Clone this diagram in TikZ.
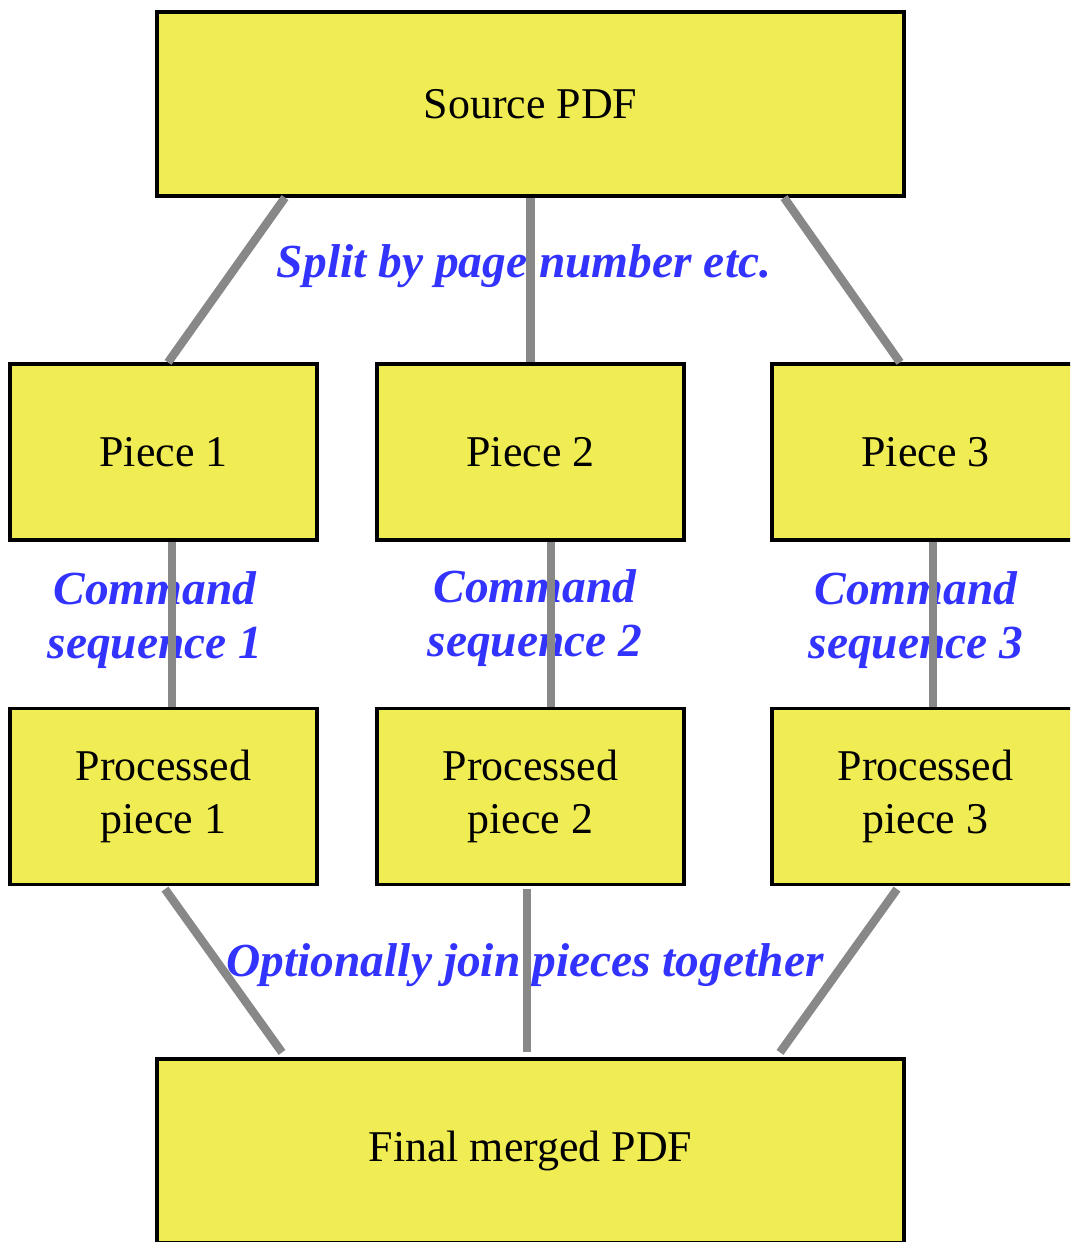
\documentclass[tikz,border=0pt]{standalone}
\usepackage{fontspec}
\setmainfont{Liberation Serif}
\definecolor{boxyellow}{RGB}{240,236,84}
\definecolor{labelblue}{RGB}{51,51,255}
\definecolor{linkgray}{RGB}{136,136,136}

\begin{document}
\begin{tikzpicture}
% Define the node styles
\tikzstyle{stage} = [draw, rectangle, fill=boxyellow, line width=0.9pt, align=center, font=\fontsize{12.5}{15}\selectfont]
\tikzstyle{wide} = [stage, minimum width=7.47cm, minimum height=1.84cm]
\tikzstyle{piece} = [stage, minimum width=3.07cm, minimum height=1.76cm]
\tikzstyle{note} = [text=labelblue, align=center, font=\fontsize{13.5}{15.5}\selectfont\bfseries\itshape]
\tikzstyle{link} = [draw=linkgray, line width=2.4pt]

\useasboundingbox (0,0) rectangle (10.7,-12.42);
\clip (0,0) rectangle (10.7,-12.42);

% Define the nodes
\node[wide] (src) at (5.305, -1.04) {Source PDF};
\node[piece] (p1) at (1.635, -4.52) {Piece 1};
\node[piece] (p2) at (5.305, -4.52) {Piece 2};
\node[piece] (p3) at (9.255, -4.52) {Piece 3};
\node[piece] (q1) at (1.635, -7.965) {Processed\\piece 1};
\node[piece] (q2) at (5.305, -7.965) {Processed\\piece 2};
\node[piece] (q3) at (9.255, -7.965) {Processed\\piece 3};
\node[wide] (fin) at (5.305, -11.51) {Final merged PDF};

% Labels
\node[note] (split) at (5.24, -2.66) {Split by page number etc.};
\node[note] (cmd1) at (1.55, -6.2) {Command\\sequence 1};
\node[note] (cmd2) at (5.35, -6.18) {Command\\sequence 2};
\node[note] (cmd3) at (9.16, -6.2) {Command\\sequence 3};
\node[note] (join) at (5.25, -9.65) {Optionally join pieces together};

% Define the connections
\draw[link] ([xshift=-2.455cm]src.south) -- ([xshift=0.045cm]p1.north);
\draw[link] (src.south) -- (p2.north);
\draw[link] ([xshift=2.535cm]src.south) -- ([xshift=-0.255cm]p3.north);

\draw[link] ([xshift=0.085cm]p1.south) -- ([xshift=0.085cm]q1.north);
\draw[link] ([xshift=0.205cm]p2.south) -- ([xshift=0.205cm]q2.north);
\draw[link] ([xshift=0.075cm]p3.south) -- ([xshift=0.075cm]q3.north);

\draw[link] ([xshift=0.015cm,yshift=-0.03cm]q1.south) -- ([xshift=-2.485cm,yshift=0.05cm]fin.north);
\draw[link] ([xshift=-0.035cm,yshift=-0.03cm]q2.south) -- ([xshift=-0.035cm,yshift=0.05cm]fin.north);
\draw[link] ([xshift=-0.285cm,yshift=-0.03cm]q3.south) -- ([xshift=2.495cm,yshift=0.05cm]fin.north);

\end{tikzpicture}
\end{document}
